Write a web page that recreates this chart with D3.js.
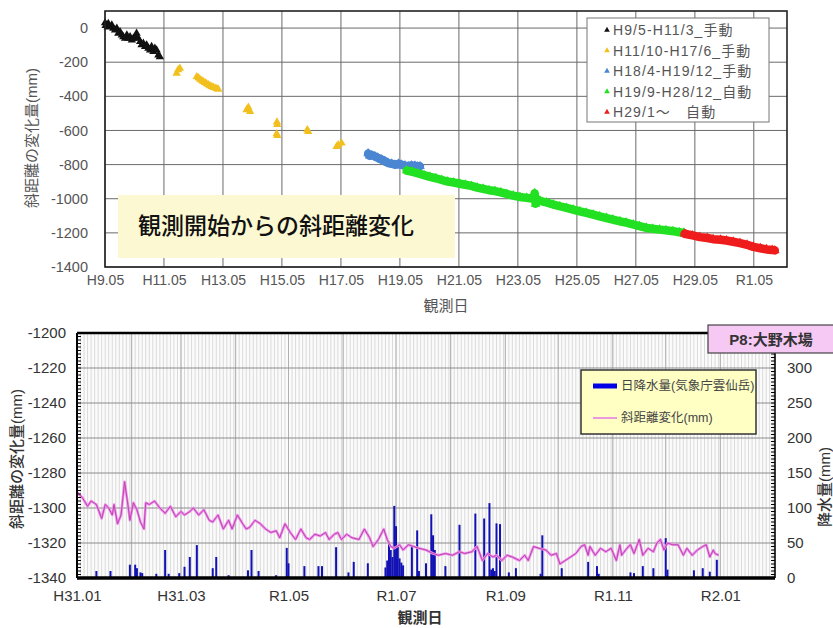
<!DOCTYPE html>
<html><head><meta charset="utf-8">
<script src="https://cdn.jsdelivr.net/npm/d3@7"></script>
<style>
body{margin:0;background:#fff;}
svg{font-family:"Liberation Sans",Arial,"Noto Sans CJK JP",sans-serif;}
</style>
</head><body>
<svg id="c" width="833" height="628"></svg>
<script>
// ================= TOP CHART DATA =================
const topTickYears = [1997,1999,2001,2003,2005,2007,2009,2011,2013,2015,2017,2019];
const topTickLabels = ["H9.05","H11.05","H13.05","H15.05","H17.05","H19.05","H21.05","H23.05","H25.05","H27.05","H29.05","R1.05"];
const topYTicks = [0,-200,-400,-600,-800,-1000,-1200,-1400];
const seriesNames = ["H9/5-H11/3_手動","H11/10-H17/6_手動","H18/4-H19/12_手動","H19/9-H28/12_自動","H29/1～　自動"];
const seriesColors = ["#111111","#f2c01e","#4a86d2","#22e022","#ee1c1c"];

// decimal years / values (mm)
const blackYears = [1997.33,1997.35,1997.39,1997.42,1997.44,1997.50,1997.56,1997.61,1997.67,1997.73,1997.78,1997.84,1997.90,1997.95,1998.01,1998.07,1998.12,1998.18,1998.24,1998.29,1998.35,1998.40,1998.46,1998.52,1998.57,1998.63,1998.69,1998.74,1998.80,1998.86,1998.91,1998.97,1999.02,1999.08,1999.14,1999.19];
const blackValues = [30,15,18,5,27,8,18,-2,-12,-2,-31,-22,-41,-51,-60,-41,-60,-51,-70,-60,-51,-31,-60,-80,-99,-89,-109,-99,-119,-129,-109,-138,-119,-129,-158,-168];
const yellowYears = [1999.76,1999.81,1999.87,2000.44,2000.50,2000.55,2000.61,2000.66,2000.72,2000.78,2000.84,2000.89,2000.95,2001.00,2001.06,2001.12,2001.17,2002.13,2002.19,2002.25,2003.16,2003.17,2003.15,2003.17,2004.19,2004.22,2005.18,2005.24,2005.35];
const yellowValues = [-265,-245,-236,-285,-292,-300,-307,-314,-320,-327,-333,-339,-343,-347,-351,-355,-359,-479,-464,-489,-551,-565,-620,-630,-596,-606,-694,-684,-674];
const blueYears = [2006.25,2006.30,2006.38,2006.48,2006.58,2006.71,2006.82,2006.93,2007.05,2007.16,2007.28,2007.39,2007.50,2007.61,2007.72,2007.84,2007.93,2008.01];
const blueValues = [-735,-748,-745,-752,-760,-771,-780,-791,-795,-801,-796,-801,-806,-810,-805,-807,-812,-810];
const greenYears = [2007.56,2007.75,2007.95,2008.15,2008.35,2008.55,2008.75,2008.95,2009.15,2009.36,2009.55,2009.75,2009.95,2010.15,2010.35,2010.55,2010.75,2010.95,2011.17,2011.40,2011.63,2011.85,2011.90,2011.93,2011.98,2012.08,2012.30,2012.53,2012.75,2012.98,2013.20,2013.43,2013.65,2013.88,2014.10,2014.34,2014.55,2014.79,2015.00,2015.24,2015.45,2015.69,2015.90,2016.14,2016.35,2016.59,2016.80,2016.95];
const greenValues = [-835,-842,-852,-862,-872,-880,-890,-900,-905,-912,-918,-925,-935,-942,-950,-955,-963,-972,-982,-990,-995,-1000,-968,-1030,-1005,-1012,-1022,-1034,-1044,-1054,-1064,-1074,-1083,-1093,-1103,-1113,-1122,-1132,-1140,-1151,-1160,-1171,-1176,-1181,-1185,-1190,-1196,-1200];
const redYears = [2016.98,2017.25,2017.50,2017.75,2017.95,2018.20,2018.40,2018.63,2018.86,2019.10,2019.31,2019.55,2019.76,2019.95,2020.04];
const redValues = [-1205,-1215,-1225,-1230,-1237,-1240,-1245,-1252,-1260,-1270,-1282,-1290,-1297,-1300,-1303];

// ================= BOTTOM CHART DATA =================
const bottomTickDates = ["2019-01-01","2019-03-01","2019-05-01","2019-07-01","2019-09-01","2019-11-01","2020-01-01"];
const bottomTickLabels = ["H31.01","H31.03","R1.05","R1.07","R1.09","R1.11","R2.01"];
const leftTicks = [-1200,-1220,-1240,-1260,-1280,-1300,-1320,-1340];
const rightTicks = [0,50,100,150,200,250,300];

const rainDates = ["2019-01-12","2019-01-20","2019-01-31","2019-02-03","2019-02-04","2019-02-06","2019-02-07","2019-02-15","2019-02-20","2019-02-22","2019-02-28","2019-03-03","2019-03-06","2019-03-10","2019-03-19","2019-03-21","2019-03-28","2019-04-08","2019-04-10","2019-04-14","2019-04-24","2019-04-30","2019-05-01","2019-05-10","2019-05-18","2019-05-20","2019-05-28","2019-06-04","2019-06-07","2019-06-15","2019-06-25","2019-06-26","2019-06-27","2019-06-28","2019-06-29","2019-06-30","2019-07-01","2019-07-02","2019-07-03","2019-07-04","2019-07-05","2019-07-10","2019-07-13","2019-07-14","2019-07-18","2019-07-21","2019-07-22","2019-07-23","2019-07-29","2019-08-06","2019-08-15","2019-08-20","2019-08-23","2019-08-24","2019-08-25","2019-08-26","2019-08-27","2019-08-29","2019-09-03","2019-09-07","2019-09-21","2019-09-22","2019-10-03","2019-10-18","2019-10-23","2019-10-24","2019-11-11","2019-11-13","2019-11-18","2019-11-24","2019-12-01","2019-12-02","2019-12-17","2019-12-22","2019-12-26","2019-12-30"];
const rainValues = [10,10,19,19,14,8,7,6,40,6,7,16,30,47,14,30,4,11,40,10,4,43,21,17,17,17,44,8,23,21,15,25,52,40,30,103,74,45,28,22,18,47,68,10,21,91,61,40,17,76,92,85,107,12,14,10,78,77,8,14,6,61,14,23,17,6,8,7,17,14,57,12,11,14,9,26];

const slopeDates = ["2019-01-01","2019-01-04","2019-01-07","2019-01-09","2019-01-12","2019-01-15","2019-01-17","2019-01-19","2019-01-21","2019-01-22","2019-01-24","2019-01-26","2019-01-28","2019-01-30","2019-01-31","2019-02-02","2019-02-04","2019-02-06","2019-02-08","2019-02-09","2019-02-11","2019-02-14","2019-02-17","2019-02-20","2019-02-23","2019-02-26","2019-03-01","2019-03-03","2019-03-06","2019-03-08","2019-03-11","2019-03-14","2019-03-17","2019-03-19","2019-03-22","2019-03-25","2019-03-28","2019-03-30","2019-04-02","2019-04-05","2019-04-07","2019-04-09","2019-04-12","2019-04-15","2019-04-18","2019-04-21","2019-04-24","2019-04-26","2019-04-29","2019-05-02","2019-05-05","2019-05-08","2019-05-11","2019-05-13","2019-05-16","2019-05-19","2019-05-22","2019-05-24","2019-05-27","2019-05-29","2019-05-31","2019-06-03","2019-06-06","2019-06-10","2019-06-13","2019-06-16","2019-06-18","2019-06-21","2019-06-24","2019-06-26","2019-06-28","2019-06-30","2019-07-03","2019-07-05","2019-07-08","2019-07-11","2019-07-14","2019-07-18","2019-07-22","2019-07-25","2019-07-29","2019-08-02","2019-08-06","2019-08-09","2019-08-13","2019-08-16","2019-08-19","2019-08-22","2019-08-25","2019-08-27","2019-08-30","2019-09-02","2019-09-05","2019-09-09","2019-09-12","2019-09-14","2019-09-17","2019-09-20","2019-09-24","2019-09-27","2019-09-30","2019-10-02","2019-10-05","2019-10-08","2019-10-11","2019-10-14","2019-10-16","2019-10-18","2019-10-19","2019-10-22","2019-10-25","2019-10-28","2019-10-31","2019-11-03","2019-11-05","2019-11-06","2019-11-09","2019-11-11","2019-11-13","2019-11-16","2019-11-18","2019-11-21","2019-11-24","2019-11-26","2019-11-28","2019-11-30","2019-12-02","2019-12-05","2019-12-08","2019-12-11","2019-12-13","2019-12-16","2019-12-19","2019-12-22","2019-12-24","2019-12-26","2019-12-28","2019-12-29","2019-12-31"];
const slopeValues = [-1291,-1294,-1299,-1296,-1298,-1306,-1298,-1300,-1304,-1298,-1309,-1304,-1285,-1299,-1307,-1297,-1301,-1308,-1312,-1297,-1298,-1296,-1300,-1303,-1299,-1305,-1302,-1304,-1302,-1300,-1304,-1301,-1307,-1308,-1304,-1312,-1307,-1312,-1304,-1309,-1312,-1311,-1307,-1309,-1312,-1314,-1313,-1317,-1309,-1314,-1318,-1312,-1317,-1318,-1315,-1316,-1314,-1318,-1315,-1314,-1318,-1315,-1317,-1318,-1312,-1317,-1322,-1318,-1312,-1318,-1322,-1323,-1321,-1324,-1321,-1322,-1323,-1324,-1326,-1327,-1326,-1327,-1325,-1326,-1325,-1322,-1330,-1326,-1328,-1327,-1330,-1327,-1328,-1330,-1327,-1330,-1322,-1323,-1324,-1327,-1326,-1332,-1330,-1328,-1326,-1322,-1321,-1327,-1322,-1327,-1323,-1325,-1323,-1330,-1321,-1327,-1323,-1321,-1326,-1318,-1327,-1323,-1325,-1320,-1318,-1324,-1320,-1321,-1321,-1327,-1323,-1327,-1324,-1322,-1321,-1328,-1324,-1326,-1327];

// ================= DRAWING =================
const svg = d3.select("#c");
const parse = d3.timeParse("%Y-%m-%d");
const plain = d => String(d);
function decYear(y){const yr=Math.floor(y);const s=new Date(yr,0,1),e=new Date(yr+1,0,1);return new Date(+s+(y-yr)*(e-s));}

// ---------- top ----------
const T = {l:105,r:787,t:11,b:267};
const xT = d3.scaleTime().domain([new Date(1997,4,1), new Date(2020,5,15)]).range([T.l,T.r]);
const yT = d3.scaleLinear().domain([-1400,100]).range([T.b,T.t]);
const gT = svg.append("g");
const topTickDates = topTickYears.map(y=>new Date(y,4,1));

gT.selectAll("line.vg").data(topTickDates).join("line")
  .attr("x1",d=>xT(d)).attr("x2",d=>xT(d)).attr("y1",T.t).attr("y2",T.b)
  .attr("stroke","#6a6a6a").attr("stroke-width",1);
gT.selectAll("line.hg").data(topYTicks).join("line")
  .attr("x1",T.l).attr("x2",T.r).attr("y1",d=>yT(d)).attr("y2",d=>yT(d))
  .attr("stroke","#6a6a6a").attr("stroke-width",1);

// highlighted text box
gT.append("rect").attr("x",118).attr("y",195).attr("width",337).attr("height",63).attr("fill","#fcf8d2");
gT.append("text").attr("x",138).attr("y",234).attr("font-size",23).attr("fill","#111")
  .attr("font-family","'Noto Sans CJK JP',sans-serif").attr("font-weight",500).text("観測開始からの斜距離変化");

// axes
const axTB = d3.axisBottom(xT).tickValues(topTickDates).tickFormat((d,i)=>topTickLabels[i]).tickSize(0).tickPadding(8);
gT.append("g").attr("transform",`translate(0,${T.b})`).call(axTB)
  .call(g=>g.select(".domain").remove())
  .selectAll("text").attr("font-size",14).attr("fill","#555").attr("font-family","'Liberation Sans',Arial,sans-serif");
const axTL = d3.axisLeft(yT).tickValues(topYTicks).tickFormat(plain).tickSize(0).tickPadding(17);
gT.append("g").attr("transform",`translate(${T.l},0)`).call(axTL)
  .call(g=>g.select(".domain").remove())
  .selectAll("text").attr("font-size",14.5).attr("fill","#555").attr("font-family","'Liberation Sans',Arial,sans-serif");

// series
const topSeries = [
  {years:blackYears, vals:blackValues, band:false},
  {years:yellowYears, vals:yellowValues, band:false},
  {years:blueYears, vals:blueValues, band:true},
  {years:greenYears, vals:greenValues, band:true},
  {years:redYears, vals:redValues, band:true}
];
const tri = d3.symbol().type(d3.symbolTriangle);
topSeries.forEach((s,i)=>{
  const pts = s.years.map((y,j)=>({d:decYear(y), v:s.vals[j]}));
  if(s.band){
    gT.append("path").datum(pts)
      .attr("d", d3.line().x(p=>xT(p.d)).y(p=>yT(p.v)))
      .attr("fill","none").attr("stroke",seriesColors[i]).attr("stroke-width",8.5)
      .attr("stroke-linejoin","round").attr("stroke-linecap","round");
  }
  gT.selectAll(null).data(pts).join("path")
    .attr("transform",p=>`translate(${xT(p.d)},${yT(p.v)})`)
    .attr("d", tri.size(s.band?40:30)())
    .attr("fill",seriesColors[i]);
});

// border
gT.append("rect").attr("x",T.l).attr("y",T.t).attr("width",T.r-T.l).attr("height",T.b-T.t)
  .attr("fill","none").attr("stroke","#222").attr("stroke-width",1.6);

// titles
gT.append("text").attr("transform","translate(37,138) rotate(-90)").attr("text-anchor","middle")
  .attr("font-size",15).attr("fill","#555").text("斜距離の変化量(mm)");
gT.append("text").attr("x",446).attr("y",311).attr("text-anchor","middle")
  .attr("font-size",15).attr("fill","#555").text("観測日");

// legend
const lgT = gT.append("g");
lgT.append("rect").attr("x",587).attr("y",18).attr("width",182).attr("height",104)
  .attr("fill","#fff").attr("stroke","#777").attr("stroke-width",1);
seriesNames.forEach((n,i)=>{
  const yy = 30 + i*20.5;
  lgT.append("path").attr("transform",`translate(607,${yy})`).attr("d",tri.size(14)()).attr("fill",seriesColors[i]);
  lgT.append("text").attr("x",613).attr("y",yy+5).attr("font-size",14).attr("letter-spacing",1.1)
    .attr("fill","#555").text(n);
});

// ---------- bottom ----------
const B = {l:77,r:775,t:333,b:578};
const xB = d3.scaleTime().domain([parse("2019-01-01"), parse("2020-02-01")]).range([B.l,B.r]);
const yL = d3.scaleLinear().domain([-1340,-1200]).range([B.b,B.t]);
const yR = d3.scaleLinear().domain([0,350]).range([B.b,B.t]);
const gB = svg.append("g");

gB.append("rect").attr("x",B.l).attr("y",B.t).attr("width",B.r-B.l).attr("height",B.b-B.t).attr("fill","#fbfbfb");
// dense day grid
const dayLines = d3.timeDay.every(2).range(parse("2019-01-01"), parse("2020-02-01"));
gB.selectAll(null).data(dayLines).join("line")
  .attr("x1",d=>xB(d)).attr("x2",d=>xB(d)).attr("y1",B.t).attr("y2",B.b)
  .attr("stroke","#dadada").attr("stroke-width",1);
// monthly grid
const months = d3.timeMonth.range(parse("2019-01-01"), parse("2020-02-02"));
gB.selectAll(null).data(months).join("line")
  .attr("x1",d=>xB(d)).attr("x2",d=>xB(d)).attr("y1",B.t).attr("y2",B.b)
  .attr("stroke","#b0b0b0").attr("stroke-width",1);
gB.selectAll(null).data(leftTicks).join("line")
  .attr("x1",B.l).attr("x2",B.r).attr("y1",d=>yL(d)).attr("y2",d=>yL(d))
  .attr("stroke","#8c8c8c").attr("stroke-width",1);

// rain bars
const rain = rainDates.map((d,i)=>({d:parse(d), v:rainValues[i]}));
gB.selectAll(null).data(rain).join("rect")
  .attr("x",p=>xB(p.d)-1).attr("width",2).attr("y",p=>yR(p.v)).attr("height",p=>B.b-yR(p.v))
  .attr("fill","#1212b4");

// slope line
const slope = slopeDates.map((d,i)=>({d:parse(d), v:slopeValues[i]}));
const ln = d3.line().x(p=>xB(p.d)).y(p=>yL(p.v));
gB.append("path").datum(slope).attr("d",ln).attr("fill","none").attr("stroke","#f28cf0").attr("stroke-width",2.6).attr("stroke-linejoin","round");
gB.append("path").datum(slope).attr("d",ln).attr("fill","none").attr("stroke","#b848a8").attr("stroke-width",1).attr("stroke-linejoin","round");

// axes lines
gB.append("line").attr("x1",B.l).attr("x2",B.r).attr("y1",B.t).attr("y2",B.t).attr("stroke","#000").attr("stroke-width",2.5);
gB.append("line").attr("x1",B.l).attr("x2",B.l).attr("y1",B.t).attr("y2",B.b).attr("stroke","#000").attr("stroke-width",2);
gB.append("line").attr("x1",B.r).attr("x2",B.r).attr("y1",B.t).attr("y2",B.b).attr("stroke","#000").attr("stroke-width",1.5);
gB.append("line").attr("x1",B.l).attr("x2",B.r).attr("y1",B.b).attr("y2",B.b).attr("stroke","#000").attr("stroke-width",3.5);
// minor ticks
gB.selectAll(null).data(d3.range(-1340,-1199,2)).join("line")
  .attr("x1",B.l).attr("x2",B.l+4).attr("y1",d=>yL(d)).attr("y2",d=>yL(d)).attr("stroke","#000").attr("stroke-width",1);
gB.selectAll(null).data(d3.range(0,351,5)).join("line")
  .attr("x1",B.r-4).attr("x2",B.r).attr("y1",d=>yR(d)).attr("y2",d=>yR(d)).attr("stroke","#000").attr("stroke-width",1);

// tick labels
const bTickDates = bottomTickDates.map(parse);
gB.append("g").attr("transform",`translate(0,${B.b})`)
  .call(d3.axisBottom(xB).tickValues(bTickDates).tickFormat((d,i)=>bottomTickLabels[i]).tickSize(0).tickPadding(12))
  .call(g=>g.select(".domain").remove())
  .selectAll("text").attr("font-size",15).attr("fill","#333").attr("font-family","'Liberation Sans',Arial,sans-serif");
gB.append("g").attr("transform",`translate(${B.l},0)`)
  .call(d3.axisLeft(yL).tickValues(leftTicks).tickFormat(plain).tickSize(0).tickPadding(11))
  .call(g=>g.select(".domain").remove())
  .selectAll("text").attr("font-size",15).attr("fill","#333").attr("font-family","'Liberation Sans',Arial,sans-serif");
gB.append("g").attr("transform",`translate(${B.r},0)`)
  .call(d3.axisRight(yR).tickValues(rightTicks).tickFormat(plain).tickSize(0).tickPadding(12))
  .call(g=>g.select(".domain").remove())
  .selectAll("text").attr("font-size",15).attr("fill","#333").attr("font-family","'Liberation Sans',Arial,sans-serif");

// titles
gB.append("text").attr("transform","translate(22,459) rotate(-90)").attr("text-anchor","middle")
  .attr("font-size",15).attr("fill","#333").attr("font-weight",500).text("斜距離の変化量(mm)");
gB.append("text").attr("transform","translate(830,487) rotate(-90)").attr("text-anchor","middle")
  .attr("font-size",15).attr("fill","#333").attr("font-weight",500).text("降水量(mm)");
gB.append("text").attr("x",420).attr("y",623).attr("text-anchor","middle")
  .attr("font-size",15).attr("fill","#333").attr("font-weight",700).text("観測日");

// title box
gB.append("rect").attr("x",708).attr("y",325).attr("width",140).attr("height",28)
  .attr("fill","#f6c8f4").attr("stroke","#444").attr("stroke-width",1.2);
gB.append("text").attr("x",771).attr("y",345).attr("text-anchor","middle")
  .attr("font-size",15).attr("font-weight",700).attr("fill","#333").text("P8:大野木場");

// legend
const lgB = gB.append("g");
lgB.append("rect").attr("x",581).attr("y",370).attr("width",175).attr("height",64)
  .attr("fill","#ffffc4").attr("stroke","#333").attr("stroke-width",1.5);
lgB.append("line").attr("x1",593).attr("x2",617).attr("y1",386).attr("y2",386).attr("stroke","#0000e6").attr("stroke-width",5);
lgB.append("text").attr("x",621).attr("y",390).attr("font-size",12.5).attr("fill","#444").text("日降水量(気象庁雲仙岳)");
lgB.append("line").attr("x1",593).attr("x2",617).attr("y1",418).attr("y2",418).attr("stroke","#e880e6").attr("stroke-width",1.6);
lgB.append("text").attr("x",621).attr("y",422).attr("font-size",12.5).attr("fill","#444").text("斜距離変化(mm)");
</script>
</body></html>
